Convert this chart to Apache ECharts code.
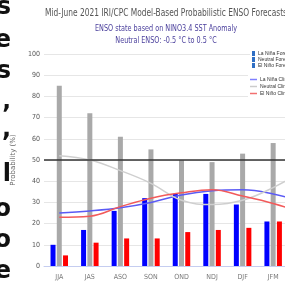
<!DOCTYPE html>
<html><head><meta charset="utf-8">
<script src="https://cdn.jsdelivr.net/npm/echarts@6/dist/echarts.min.js"></script>
<style>html,body{margin:0;padding:0;background:#fff}#c{width:285px;height:285px}</style>
</head><body><div id="c"></div>
<script>
var categories = ['JJA','JAS','ASO','SON','OND','NDJ','DJF','JFM','FMA'];
var laNinaForecast = [10,17,26,32,34,34,29,21,null];
var neutralForecast = [85,72,61,55,50,49,53,58,null];
var elNinoForecast = [5,11,13,13,16,17,18,21,null];
var laNinaClim = [25,26,27.5,30,33.5,35.5,36,34,30];
var neutralClim = [52,50,45,39,31,29,31,37,45];
var elNinoClim = [23,23.5,28,32,34.5,36,33,29.5,25];
var yTicks = {min:0,max:100,interval:10};
var sideGlyphs = [
  {t:'s',y:20},{t:'e',y:53},{t:'s',y:84},{t:'\u2019',y:128},{t:',',y:142},
  {t:'l',y:187},{t:'o',y:222},{t:'o',y:253},{t:'e',y:284}
];
var titleText = 'Mid-June 2021 IRI/CPC Model-Based Probabilistic ENSO Forecasts';
var subLines = ['ENSO state based on NINO3.4 SST Anomaly','Neutral ENSO: -0.5 \u00b0C to 0.5 \u00b0C'];
var chart = echarts.init(document.getElementById('c'));
var fam = '"DejaVu Sans Condensed","DejaVu Sans",sans-serif';
var graphics = sideGlyphs.map(function(g){
  return {type:'text',x:11,y:g.y,style:{text:g.t,textAlign:'right',textVerticalAlign:'bottom',
    font:'bold 24px "DejaVu Sans"',fill:'#111'}};
});
graphics.push({type:'text',x:45,y:13,scaleX:0.79,style:{text:titleText,textAlign:'left',textVerticalAlign:'middle',
  font:'10.5px '+fam,fill:'#555'}});
graphics.push({type:'text',x:166,y:28.5,scaleX:0.8,style:{text:subLines[0],textAlign:'center',textVerticalAlign:'middle',
  font:'9px '+fam,fill:'#4a3f9c'}});
graphics.push({type:'text',x:166,y:40.5,scaleX:0.8,style:{text:subLines[1],textAlign:'center',textVerticalAlign:'middle',
  font:'9px '+fam,fill:'#4a3f9c'}});
chart.setOption({
  animation:false,
  graphic:graphics,
  legend:[
    {data:[{name:'La Ni\u00f1a Forecast',itemStyle:{color:'#2f6fc4'}},{name:'Neutral Forecast',itemStyle:{color:'#2f6fc4'}},{name:'El Ni\u00f1o Forecast',itemStyle:{color:'#2f6fc4'}}],
     orient:'vertical',left:250,top:50,itemWidth:3,itemHeight:5,itemGap:1,padding:[1,2],backgroundColor:'#fff',
     selectedMode:false,textStyle:{fontSize:5,color:'#333',padding:[0,0,0,-2]},icon:'rect'},
    {data:[{name:'La Ni\u00f1a Clim',itemStyle:{color:'#8080ff'}},{name:'Neutral Clim',itemStyle:{color:'#cccccc'}},{name:'El Ni\u00f1o Clim',itemStyle:{color:'#f27070'}}],
     orient:'vertical',left:248,top:75,itemWidth:7,itemHeight:1.5,itemGap:2,padding:[2,2],backgroundColor:'#fff',icon:'rect',
     selectedMode:false,textStyle:{fontSize:5,color:'#333',padding:[0,0,0,-2]}}
  ],
  grid:{left:44,width:275,top:54,bottom:19,containLabel:false,outerBoundsMode:'none'},
  xAxis:{type:'category',data:categories,
    axisLine:{lineStyle:{color:'#c5cdf0',width:1}},axisTick:{show:false},
    axisLabel:{fontSize:7,color:'#777',margin:8,fontFamily:fam,interval:0}},
  yAxis:{type:'value',min:yTicks.min,max:yTicks.max,interval:yTicks.interval,
    name:'Probability (%)',nameLocation:'middle',nameRotate:90,nameGap:26,
    nameTextStyle:{fontSize:7,color:'#666',fontFamily:'"DejaVu Sans",sans-serif'},
    axisLine:{show:false},axisTick:{show:false},
    axisLabel:{fontSize:7,color:'#555',margin:4,fontFamily:fam},
    splitLine:{lineStyle:{color:'#e6e6e6'}}},
  series:[
    {name:'La Ni\u00f1a Forecast',type:'bar',data:laNinaForecast,barWidth:5,barGap:'25%',itemStyle:{color:'#0000ff'}},
    {name:'Neutral Forecast',type:'bar',data:neutralForecast,barWidth:5,barGap:'25%',itemStyle:{color:'#a9a9a9'},
     markLine:{silent:true,symbol:'none',label:{show:false},lineStyle:{color:'#333',width:1.5,type:'solid'},data:[{yAxis:50}]}},
    {name:'El Ni\u00f1o Forecast',type:'bar',data:elNinoForecast,barWidth:5,barGap:'25%',itemStyle:{color:'#ff0000'}},
    {name:'La Ni\u00f1a Clim',type:'line',data:laNinaClim,smooth:0.4,symbol:'none',lineStyle:{color:'#5a5af5',width:1.5},itemStyle:{color:'#7a7af5'}},
    {name:'Neutral Clim',type:'line',data:neutralClim,smooth:0.4,symbol:'none',lineStyle:{color:'#cfcfcf',width:1.5},itemStyle:{color:'#cfcfcf'}},
    {name:'El Ni\u00f1o Clim',type:'line',data:elNinoClim,smooth:0.4,symbol:'none',lineStyle:{color:'#f25a5a',width:1.5},itemStyle:{color:'#f27a7a'}}
  ]
});
</script></body></html>
